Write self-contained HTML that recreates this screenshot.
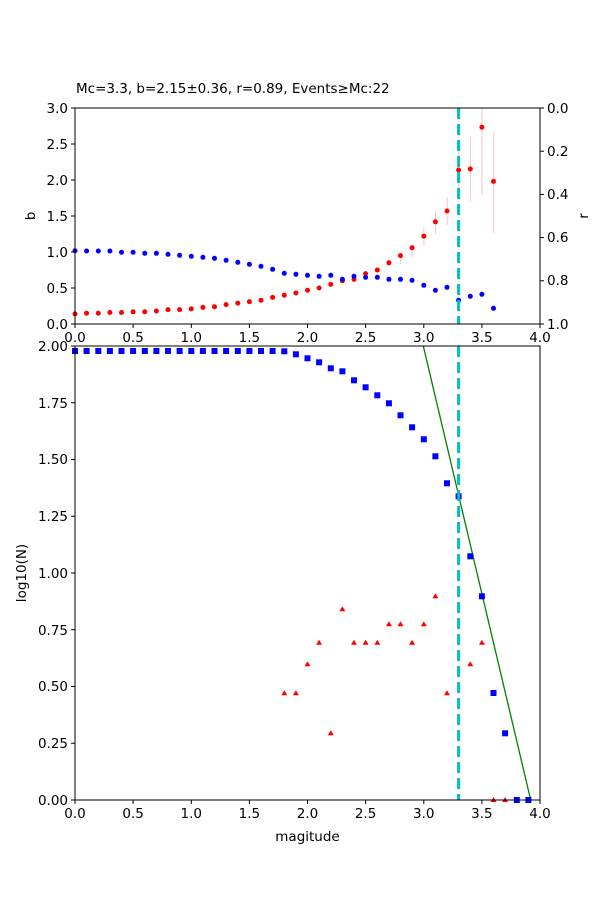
<!DOCTYPE html>
<html><head><meta charset="utf-8"><style>
html,body{margin:0;padding:0;background:#fff}
svg{display:block;font-family:"DejaVu Sans","Liberation Sans",sans-serif}
</style></head><body>
<svg width="600" height="900" viewBox="0 0 600 900" xmlns="http://www.w3.org/2000/svg">
<rect width="600" height="900" fill="#fff"/>
<text x="76" y="93" font-size="13.5">Mc=3.3, b=2.15±0.36, r=0.89, Events≥Mc:22</text>

<!-- TOP AXES -->
<g stroke="#ff9999" stroke-width="1" opacity="0.6">
<line x1="389" y1="258" x2="389" y2="266"/>
<line x1="400.6" y1="253" x2="400.6" y2="264"/>
<line x1="412.2" y1="245" x2="412.2" y2="257"/>
<line x1="423.9" y1="227" x2="423.9" y2="246"/>
<line x1="435.5" y1="211" x2="435.5" y2="234"/>
<line x1="447.1" y1="197" x2="447.1" y2="225"/>
<line x1="458.8" y1="145" x2="458.8" y2="195"/>
<line x1="470.4" y1="136" x2="470.4" y2="202"/>
<line x1="482" y1="108" x2="482" y2="195"/>
<line x1="493.7" y1="132" x2="493.7" y2="233"/>
</g>
<g fill="#ff0000">
<circle cx="75" cy="313.9" r="2.5"/><circle cx="86.6" cy="313.2" r="2.5"/><circle cx="98.3" cy="313.2" r="2.5"/><circle cx="109.9" cy="312.5" r="2.5"/><circle cx="121.5" cy="312.5" r="2.5"/><circle cx="133.1" cy="311.8" r="2.5"/><circle cx="144.8" cy="311.8" r="2.5"/><circle cx="156.4" cy="311" r="2.5"/><circle cx="168" cy="309.6" r="2.5"/><circle cx="179.6" cy="309.6" r="2.5"/><circle cx="191.3" cy="308.9" r="2.5"/><circle cx="202.9" cy="307.4" r="2.5"/><circle cx="214.5" cy="306.7" r="2.5"/><circle cx="226.1" cy="304.6" r="2.5"/><circle cx="237.8" cy="303.1" r="2.5"/><circle cx="249.4" cy="301.7" r="2.5"/><circle cx="261" cy="300.2" r="2.5"/><circle cx="272.6" cy="297.4" r="2.5"/><circle cx="284.3" cy="295.2" r="2.5"/><circle cx="295.9" cy="293" r="2.5"/><circle cx="307.5" cy="290.2" r="2.5"/><circle cx="319.1" cy="288" r="2.5"/><circle cx="330.8" cy="284.4" r="2.5"/><circle cx="342.4" cy="280.8" r="2.5"/><circle cx="354" cy="279.4" r="2.5"/><circle cx="365.6" cy="273.6" r="2.5"/><circle cx="377.3" cy="270" r="2.5"/><circle cx="388.9" cy="262.8" r="2.5"/><circle cx="400.5" cy="255.6" r="2.5"/><circle cx="412.1" cy="247.7" r="2.5"/><circle cx="423.8" cy="236.2" r="2.5"/><circle cx="435.4" cy="221.8" r="2.5"/><circle cx="447" cy="211" r="2.5"/><circle cx="458.6" cy="170" r="2.5"/><circle cx="470.3" cy="169" r="2.5"/><circle cx="481.9" cy="127.2" r="2.5"/><circle cx="493.5" cy="181.4" r="2.5"/>
</g>
<g fill="#0000ff">
<circle cx="75" cy="250.7" r="2.5"/><circle cx="86.6" cy="251" r="2.5"/><circle cx="98.3" cy="251" r="2.5"/><circle cx="109.9" cy="251" r="2.5"/><circle cx="121.5" cy="252.3" r="2.5"/><circle cx="133.1" cy="252.3" r="2.5"/><circle cx="144.8" cy="253.3" r="2.5"/><circle cx="156.4" cy="253.3" r="2.5"/><circle cx="168" cy="254.3" r="2.5"/><circle cx="179.6" cy="255.3" r="2.5"/><circle cx="191.3" cy="256.3" r="2.5"/><circle cx="202.9" cy="257.3" r="2.5"/><circle cx="214.5" cy="258.3" r="2.5"/><circle cx="226.1" cy="260.3" r="2.5"/><circle cx="237.8" cy="262.3" r="2.5"/><circle cx="249.4" cy="264.3" r="2.5"/><circle cx="261" cy="266.3" r="2.5"/><circle cx="272.6" cy="269.3" r="2.5"/><circle cx="284.3" cy="273.3" r="2.5"/><circle cx="295.9" cy="274.3" r="2.5"/><circle cx="307.5" cy="275.3" r="2.5"/><circle cx="319.1" cy="276.3" r="2.5"/><circle cx="330.8" cy="275.3" r="2.5"/><circle cx="342.4" cy="279.3" r="2.5"/><circle cx="354" cy="276.3" r="2.5"/><circle cx="365.6" cy="277.3" r="2.5"/><circle cx="377.3" cy="277.3" r="2.5"/><circle cx="388.9" cy="279.3" r="2.5"/><circle cx="400.5" cy="279.3" r="2.5"/><circle cx="412.1" cy="280.3" r="2.5"/><circle cx="423.8" cy="285.3" r="2.5"/><circle cx="435.4" cy="290.3" r="2.5"/><circle cx="447" cy="287.3" r="2.5"/><circle cx="458.6" cy="300.3" r="2.5"/><circle cx="470.3" cy="296.3" r="2.5"/><circle cx="481.9" cy="294.3" r="2.5"/><circle cx="493.5" cy="308.3" r="2.5"/>
</g>
<line x1="458.6" y1="108" x2="458.6" y2="324" stroke="#00bfbf" stroke-width="3" stroke-dasharray="11,5"/>
<rect x="75" y="108" width="465" height="216" fill="none" stroke="#000" stroke-width="1"/>
<g stroke="#000" stroke-width="1">
<line x1="75" y1="324" x2="75" y2="328"/><line x1="133.1" y1="324" x2="133.1" y2="328"/><line x1="191.3" y1="324" x2="191.3" y2="328"/><line x1="249.4" y1="324" x2="249.4" y2="328"/><line x1="307.5" y1="324" x2="307.5" y2="328"/><line x1="365.6" y1="324" x2="365.6" y2="328"/><line x1="423.8" y1="324" x2="423.8" y2="328"/><line x1="481.9" y1="324" x2="481.9" y2="328"/><line x1="540" y1="324" x2="540" y2="328"/>
<line x1="71" y1="108" x2="75" y2="108"/><line x1="71" y1="144" x2="75" y2="144"/><line x1="71" y1="180" x2="75" y2="180"/><line x1="71" y1="216" x2="75" y2="216"/><line x1="71" y1="252" x2="75" y2="252"/><line x1="71" y1="288" x2="75" y2="288"/><line x1="71" y1="324" x2="75" y2="324"/>
<line x1="540" y1="108" x2="544" y2="108"/><line x1="540" y1="151.2" x2="544" y2="151.2"/><line x1="540" y1="194.4" x2="544" y2="194.4"/><line x1="540" y1="237.6" x2="544" y2="237.6"/><line x1="540" y1="280.8" x2="544" y2="280.8"/><line x1="540" y1="324" x2="544" y2="324"/>
</g>
<g font-size="13.5" text-anchor="middle">
<text x="75" y="342">0.0</text><text x="133.1" y="342">0.5</text><text x="191.3" y="342">1.0</text><text x="249.4" y="342">1.5</text><text x="307.5" y="342">2.0</text><text x="365.6" y="342">2.5</text><text x="423.8" y="342">3.0</text><text x="481.9" y="342">3.5</text><text x="540" y="342">4.0</text>
</g>
<g font-size="13.5" text-anchor="end">
<text x="68" y="113">3.0</text><text x="68" y="149">2.5</text><text x="68" y="185">2.0</text><text x="68" y="221">1.5</text><text x="68" y="257">1.0</text><text x="68" y="293">0.5</text><text x="68" y="329">0.0</text>
</g>
<g font-size="13.5">
<text x="547" y="113">0.0</text><text x="547" y="156">0.2</text><text x="547" y="199">0.4</text><text x="547" y="242">0.6</text><text x="547" y="285">0.8</text><text x="547" y="329">1.0</text>
</g>
<text transform="translate(35,216) rotate(-90)" font-size="13.5" text-anchor="middle">b</text>
<text transform="translate(588,216) rotate(-90)" font-size="13.5" text-anchor="middle">r</text>

<!-- BOTTOM AXES -->
<line x1="423.3" y1="346" x2="530.7" y2="800" stroke="#008000" stroke-width="1.3"/>
<g fill="#ff0000">
<path d="M284.3 690.3l3 5h-6z"/><path d="M295.9 690.3l3 5h-6z"/><path d="M307.5 661.3l3 5h-6z"/><path d="M319.1 639.7l3 5h-6z"/><path d="M330.8 730.3l3 5h-6z"/><path d="M342.4 606.3l3 5h-6z"/><path d="M354 639.7l3 5h-6z"/><path d="M365.6 639.7l3 5h-6z"/><path d="M377.3 639.7l3 5h-6z"/><path d="M388.9 621.3l3 5h-6z"/><path d="M400.5 621.3l3 5h-6z"/><path d="M412.1 639.7l3 5h-6z"/><path d="M423.8 621.3l3 5h-6z"/><path d="M435.4 593.3l3 5h-6z"/><path d="M447 690.3l3 5h-6z"/><path d="M470.3 661.3l3 5h-6z"/><path d="M481.9 639.7l3 5h-6z"/><path d="M493.5 797l3 5h-6z"/><path d="M505.1 797l3 5h-6z"/>
</g>
<g fill="#0000ff">
<rect x="72" y="348" width="6" height="6"/><rect x="83.6" y="348" width="6" height="6"/><rect x="95.3" y="348" width="6" height="6"/><rect x="106.9" y="348" width="6" height="6"/><rect x="118.5" y="348" width="6" height="6"/><rect x="130.1" y="348" width="6" height="6"/><rect x="141.8" y="348" width="6" height="6"/><rect x="153.4" y="348" width="6" height="6"/><rect x="165" y="348" width="6" height="6"/><rect x="176.6" y="348" width="6" height="6"/><rect x="188.3" y="348" width="6" height="6"/><rect x="199.9" y="348" width="6" height="6"/><rect x="211.5" y="348" width="6" height="6"/><rect x="223.1" y="348" width="6" height="6"/><rect x="234.8" y="348" width="6" height="6"/><rect x="246.4" y="348" width="6" height="6"/><rect x="258" y="348" width="6" height="6"/><rect x="269.6" y="348" width="6" height="6"/><rect x="281.3" y="348.3" width="6" height="6"/><rect x="292.9" y="351.3" width="6" height="6"/><rect x="304.5" y="355.3" width="6" height="6"/><rect x="316.1" y="359.3" width="6" height="6"/><rect x="327.8" y="365.3" width="6" height="6"/><rect x="339.4" y="368.3" width="6" height="6"/><rect x="351" y="377.3" width="6" height="6"/><rect x="362.6" y="384.3" width="6" height="6"/><rect x="374.3" y="392.3" width="6" height="6"/><rect x="385.9" y="400.3" width="6" height="6"/><rect x="397.5" y="412.3" width="6" height="6"/><rect x="409.1" y="424.3" width="6" height="6"/><rect x="420.8" y="436.3" width="6" height="6"/><rect x="432.4" y="453.3" width="6" height="6"/><rect x="444" y="480.3" width="6" height="6"/><rect x="455.6" y="493.3" width="6" height="6"/><rect x="467.3" y="553.3" width="6" height="6"/><rect x="478.9" y="593.3" width="6" height="6"/><rect x="490.5" y="690" width="6" height="6"/><rect x="502.1" y="730.3" width="6" height="6"/><rect x="513.8" y="797" width="6" height="6"/><rect x="525.4" y="797" width="6" height="6"/>
</g>
<line x1="458.6" y1="346" x2="458.6" y2="800" stroke="#00bfbf" stroke-width="3" stroke-dasharray="11,5"/>
<rect x="75" y="346" width="465" height="454" fill="none" stroke="#000" stroke-width="1"/>
<g stroke="#000" stroke-width="1">
<line x1="75" y1="800" x2="75" y2="804"/><line x1="133.1" y1="800" x2="133.1" y2="804"/><line x1="191.3" y1="800" x2="191.3" y2="804"/><line x1="249.4" y1="800" x2="249.4" y2="804"/><line x1="307.5" y1="800" x2="307.5" y2="804"/><line x1="365.6" y1="800" x2="365.6" y2="804"/><line x1="423.8" y1="800" x2="423.8" y2="804"/><line x1="481.9" y1="800" x2="481.9" y2="804"/><line x1="540" y1="800" x2="540" y2="804"/>
<line x1="71" y1="346" x2="75" y2="346"/><line x1="71" y1="402.75" x2="75" y2="402.75"/><line x1="71" y1="459.5" x2="75" y2="459.5"/><line x1="71" y1="516.25" x2="75" y2="516.25"/><line x1="71" y1="573" x2="75" y2="573"/><line x1="71" y1="629.75" x2="75" y2="629.75"/><line x1="71" y1="686.5" x2="75" y2="686.5"/><line x1="71" y1="743.25" x2="75" y2="743.25"/><line x1="71" y1="800" x2="75" y2="800"/>
</g>
<g font-size="13.5" text-anchor="middle">
<text x="75" y="818">0.0</text><text x="133.1" y="818">0.5</text><text x="191.3" y="818">1.0</text><text x="249.4" y="818">1.5</text><text x="307.5" y="818">2.0</text><text x="365.6" y="818">2.5</text><text x="423.8" y="818">3.0</text><text x="481.9" y="818">3.5</text><text x="540" y="818">4.0</text>
</g>
<g font-size="13.5" text-anchor="end">
<text x="68" y="351">2.00</text><text x="68" y="408">1.75</text><text x="68" y="464">1.50</text><text x="68" y="521">1.25</text><text x="68" y="578">1.00</text><text x="68" y="635">0.75</text><text x="68" y="691">0.50</text><text x="68" y="748">0.25</text><text x="68" y="805">0.00</text>
</g>
<text x="307.5" y="841" font-size="13.5" text-anchor="middle">magitude</text>
<text transform="translate(26,573) rotate(-90)" font-size="13.5" text-anchor="middle">log10(N)</text>
</svg>
</body></html>
